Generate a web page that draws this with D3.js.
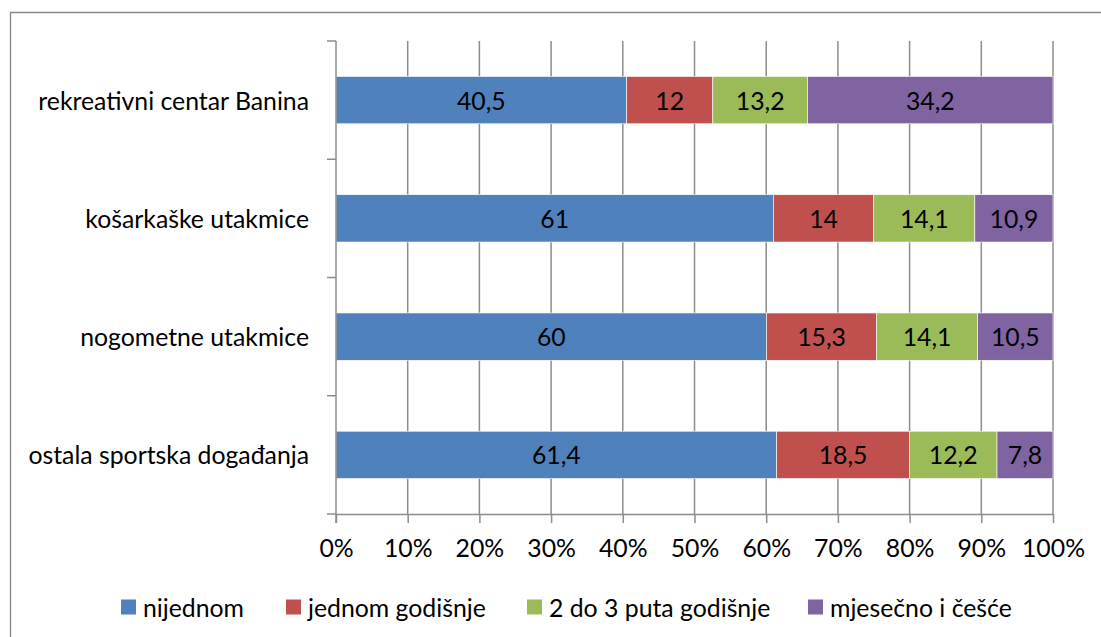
<!DOCTYPE html>
<html><head><meta charset="utf-8">
<script src="https://cdn.jsdelivr.net/npm/d3@7"></script>
<style>body{margin:0;background:#fff;}svg{display:block;}</style>
</head><body>
<svg id="c" width="1101" height="637"></svg>
<script>
const categories = ["rekreativni centar Banina","košarkaške utakmice","nogometne utakmice","ostala sportska događanja"];
const seriesNames = ["nijednom","jednom godišnje","2 do 3 puta godišnje","mjesečno i češće"];
const nijednom = [40.5, 61, 60, 61.4];
const jednomGodisnje = [12, 14, 15.3, 18.5];
const dvaDoTri = [13.2, 14.1, 14.1, 12.2];
const mjesecno = [34.2, 10.9, 10.5, 7.8];
const xTicks = [0,10,20,30,40,50,60,70,80,90,100];
const colors = ["#4F81BD","#C0504D","#9BBB59","#8064A2"];

const seriesVals = [nijednom, jednomGodisnje, dvaDoTri, mjesecno];
const rows = categories.map((c,i)=>{
  const o={cat:c}; seriesNames.forEach((s,j)=>o[s]=seriesVals[j][i]); return o;
});

const svg = d3.select("#c");
const FONT = "Lato, 'Open Sans', sans-serif";
// calibrate font size
const probe = svg.append("text").attr("font-family",FONT).attr("font-size",20).text("rekreativni centar Banina");
const w20 = probe.node().getComputedTextLength(); probe.remove();
const FS = 20*271/w20;

// border
svg.append("path").attr("d","M10.5,640 V12.5 H1105").attr("fill","none").attr("stroke","#888").attr("stroke-width",1.3);

const x0=336, x1=1053, y0=41, y1=514;
const x = d3.scaleLinear().domain([0,100]).range([x0,x1]);
const y = d3.scaleBand().domain(categories).range([y0,y1]).paddingInner(0.6).paddingOuter(0.3);
const gridC="#8c8c8c";

// gridlines
svg.append("g").selectAll("line").data(xTicks.filter(t=>t>0)).join("line")
  .attr("x1",d=>x(d)).attr("x2",d=>x(d)).attr("y1",y0).attr("y2",y1)
  .attr("stroke",gridC).attr("stroke-width",1.5);

// bars
const stack = d3.stack().keys(seriesNames).offset(d3.stackOffsetExpand);
const stacked = stack(rows);
const g = svg.append("g");
stacked.forEach((layer,j)=>{
  const lg = g.append("g");
  lg.selectAll("rect").data(layer).join("rect")
    .attr("x",d=>x(d[0]*100)).attr("width",d=>x(d[1]*100)-x(d[0]*100))
    .attr("y",d=>y(d.data.cat)).attr("height",y.bandwidth())
    .attr("fill",colors[j]).attr("stroke","#fff").attr("stroke-width",0.6);
  lg.selectAll("text").data(layer).join("text")
    .attr("x",d=>(x(d[0]*100)+x(d[1]*100))/2)
    .attr("y",d=>y(d.data.cat)+y.bandwidth()/2)
    .attr("text-anchor","middle").attr("dominant-baseline","central")
    .attr("font-family",FONT).attr("font-size",FS).attr("fill","#000")
    .text(d=>String(d.data[seriesNames[j]]).replace(".",","));
});

// x axis
const xa = svg.append("g").attr("transform",`translate(0,${y1})`)
  .call(d3.axisBottom(x).tickValues(xTicks).tickFormat(d=>d+"%").tickSize(9).tickPadding(16));
xa.select(".domain").attr("stroke",gridC).attr("stroke-width",1.5).attr("d",`M${x0},0.5H${x1}`);
xa.selectAll(".tick line").attr("stroke",gridC).attr("stroke-width",1.5);
xa.selectAll("text").attr("font-family",FONT).attr("font-size",FS).attr("fill","#000");

// y axis line + boundary ticks
svg.append("line").attr("x1",x0).attr("x2",x0).attr("y1",y0).attr("y2",y1+9).attr("stroke",gridC).attr("stroke-width",1.5);
const step = y.step();
const bounds = d3.range(categories.length+1).map(i=>y0+i*step);
svg.append("g").selectAll("line").data(bounds).join("line")
  .attr("x1",x0-9).attr("x2",x0).attr("y1",d=>d).attr("y2",d=>d)
  .attr("stroke",gridC).attr("stroke-width",1.5);
svg.append("g").selectAll("text").data(categories).join("text")
  .attr("x",309).attr("y",d=>y(d)+y.bandwidth()/2)
  .attr("text-anchor","end").attr("dominant-baseline","central")
  .attr("font-family",FONT).attr("font-size",FS).attr("fill","#000").text(d=>d);

// legend
const legX = [121,286,527,808];
const leg = svg.append("g").selectAll("g").data(seriesNames).join("g")
  .attr("transform",(d,i)=>`translate(${legX[i]},607)`);
leg.append("rect").attr("x",0).attr("y",-7.5).attr("width",15).attr("height",15).attr("fill",(d,i)=>colors[i]);
leg.append("text").attr("x",22).attr("y",0).attr("dominant-baseline","central")
  .attr("font-family",FONT).attr("font-size",FS).attr("fill","#000").text(d=>d);
</script>
</body></html>
